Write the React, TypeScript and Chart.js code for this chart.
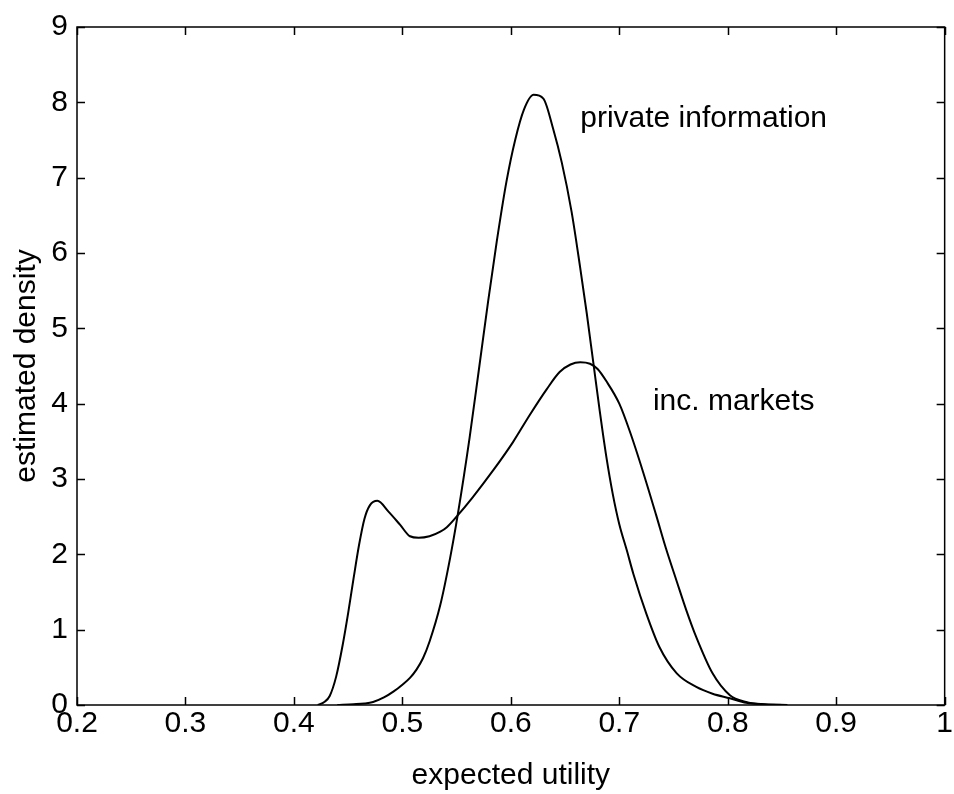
import React, { useEffect, useRef } from "react";
import { Chart, registerables } from "chart.js";

Chart.register(...registerables);

// ---- data ----
const privateX = [0.44, 0.455, 0.465, 0.473, 0.483, 0.492, 0.5, 0.507, 0.513, 0.519, 0.525, 0.535, 0.544, 0.551, 0.562, 0.571, 0.579, 0.587, 0.596, 0.604, 0.612, 0.621, 0.63, 0.639, 0.647, 0.656, 0.664, 0.67, 0.676, 0.682, 0.688, 0.694, 0.7, 0.707, 0.713, 0.725, 0.737, 0.753, 0.771, 0.786, 0.802, 0.817, 0.835, 0.855];
const privateY = [0, 0.01, 0.02, 0.04, 0.1, 0.18, 0.27, 0.36, 0.47, 0.62, 0.84, 1.33, 1.95, 2.52, 3.55, 4.5, 5.35, 6.15, 6.95, 7.5, 7.9, 8.1, 8.05, 7.65, 7.2, 6.55, 5.8, 5.2, 4.55, 3.9, 3.3, 2.8, 2.4, 2.05, 1.74, 1.21, 0.77, 0.42, 0.24, 0.15, 0.09, 0.03, 0.01, 0];

const marketsX = [0.422, 0.428, 0.433, 0.439, 0.445, 0.45, 0.455, 0.46, 0.465, 0.47, 0.477, 0.487, 0.498, 0.507, 0.515, 0.525, 0.535, 0.541, 0.55, 0.565, 0.584, 0.602, 0.617, 0.633, 0.645, 0.655, 0.664, 0.673, 0.68, 0.688, 0.7, 0.71, 0.722, 0.734, 0.743, 0.753, 0.762, 0.771, 0.786, 0.802, 0.817, 0.83, 0.85];
const marketsY = [0, 0.04, 0.12, 0.38, 0.8, 1.22, 1.68, 2.12, 2.47, 2.65, 2.71, 2.57, 2.39, 2.24, 2.22, 2.24, 2.3, 2.36, 2.5, 2.76, 3.12, 3.49, 3.84, 4.19, 4.42, 4.52, 4.55, 4.53, 4.46, 4.3, 4.0, 3.62, 3.09, 2.52, 2.08, 1.64, 1.25, 0.9, 0.42, 0.13, 0.04, 0.01, 0];

const xTickValues = [0.2, 0.3, 0.4, 0.5, 0.6, 0.7, 0.8, 0.9, 1.0];
const xTickLabels = ["0.2", "0.3", "0.4", "0.5", "0.6", "0.7", "0.8", "0.9", "1"];
const yTickValues = [0, 1, 2, 3, 4, 5, 6, 7, 8, 9];
const yTickLabels = ["0", "1", "2", "3", "4", "5", "6", "7", "8", "9"];

const xTitle = "expected utility";
const yTitle = "estimated density";

const annotationTexts = ["private information", "inc. markets"];
const annotationX = [0.664, 0.731];
const annotationY = [7.67, 3.91];

const FONT = "'Liberation Sans', Arial, sans-serif";

const boxPlugin = {
  id: "matlabBox",
  afterDraw(chart: any) {
    const { ctx, chartArea } = chart;
    const xs = chart.scales.x;
    const ys = chart.scales.y;
    const { left, right, top, bottom } = chartArea;
    const tl = 8;
    ctx.save();
    ctx.strokeStyle = "#000";
    ctx.lineWidth = 1.5;
    ctx.strokeRect(left, top, right - left, bottom - top);
    ctx.beginPath();
    xTickValues.forEach((v) => {
      const px = Math.round(xs.getPixelForValue(v)) + 0.5;
      ctx.moveTo(px, bottom);
      ctx.lineTo(px, bottom - tl);
      ctx.moveTo(px, top);
      ctx.lineTo(px, top + tl);
    });
    yTickValues.forEach((v) => {
      const py = Math.round(ys.getPixelForValue(v)) + 0.5;
      ctx.moveTo(left, py);
      ctx.lineTo(left + tl, py);
      ctx.moveTo(right, py);
      ctx.lineTo(right - tl, py);
    });
    ctx.stroke();

    ctx.fillStyle = "#000";
    ctx.font = `30px ${FONT}`;
    ctx.textAlign = "left";
    ctx.textBaseline = "alphabetic";
    annotationTexts.forEach((t, i) => {
      ctx.fillText(t, xs.getPixelForValue(annotationX[i]), ys.getPixelForValue(annotationY[i]));
    });
    ctx.restore();
  },
};

export default function App() {
  const ref = useRef<HTMLCanvasElement | null>(null);

  useEffect(() => {
    if (!ref.current) return;
    const chart = new Chart(ref.current, {
      type: "line",
      data: {
        datasets: [
          {
            label: "private information",
            data: privateX.map((x, i) => ({ x, y: privateY[i] })),
            borderColor: "#000",
            borderWidth: 2,
            pointRadius: 0,
            fill: false,
            cubicInterpolationMode: "monotone",
          },
          {
            label: "inc. markets",
            data: marketsX.map((x, i) => ({ x, y: marketsY[i] })),
            borderColor: "#000",
            borderWidth: 2,
            pointRadius: 0,
            fill: false,
            cubicInterpolationMode: "monotone",
          },
        ],
      },
      options: {
        animation: false,
        responsive: false,
        maintainAspectRatio: false,
        layout: { padding: { top: 21, right: 9, bottom: 0, left: 0 } },
        plugins: {
          legend: { display: false },
          tooltip: { enabled: false },
          title: { display: false },
        },
        scales: {
          x: {
            type: "linear",
            min: 0.2,
            max: 1.0,
            afterBuildTicks: (scale: any) => {
              scale.ticks = xTickValues.map((v) => ({ value: v }));
            },
            afterFit: (scale: any) => {
              scale.height = 89;
            },
            grid: { display: false, drawTicks: false },
            border: { display: false },
            ticks: {
              padding: 1,
              color: "#000",
              font: { family: FONT, size: 30 },
              maxRotation: 0,
              autoSkip: false,
              callback: (_v: any, i: number) => xTickLabels[i],
            },
            title: {
              display: true,
              text: xTitle,
              color: "#000",
              font: { family: FONT, size: 30 },
              padding: { top: 12, bottom: 0 },
            },
          },
          y: {
            type: "linear",
            min: 0,
            max: 9,
            afterBuildTicks: (scale: any) => {
              scale.ticks = yTickValues.map((v) => ({ value: v }));
            },
            afterFit: (scale: any) => {
              scale.width = 77;
            },
            grid: { display: false, drawTicks: false },
            border: { display: false },
            ticks: {
              padding: 9,
              color: "#000",
              font: { family: FONT, size: 30 },
              autoSkip: false,
              callback: (_v: any, i: number) => yTickLabels[i],
            },
            title: {
              display: true,
              text: yTitle,
              color: "#000",
              font: { family: FONT, size: 30 },
              padding: { top: 9, bottom: 0 },
            },
          },
        },
      },
      plugins: [boxPlugin],
    });
    return () => chart.destroy();
  }, []);

  return (
    <div style={{ position: "absolute", left: 0, top: 0, width: 954, height: 794, background: "#fff" }}>
      <canvas ref={ref} width={954} height={794} style={{ width: 954, height: 794, display: "block" }} />
    </div>
  );
}
